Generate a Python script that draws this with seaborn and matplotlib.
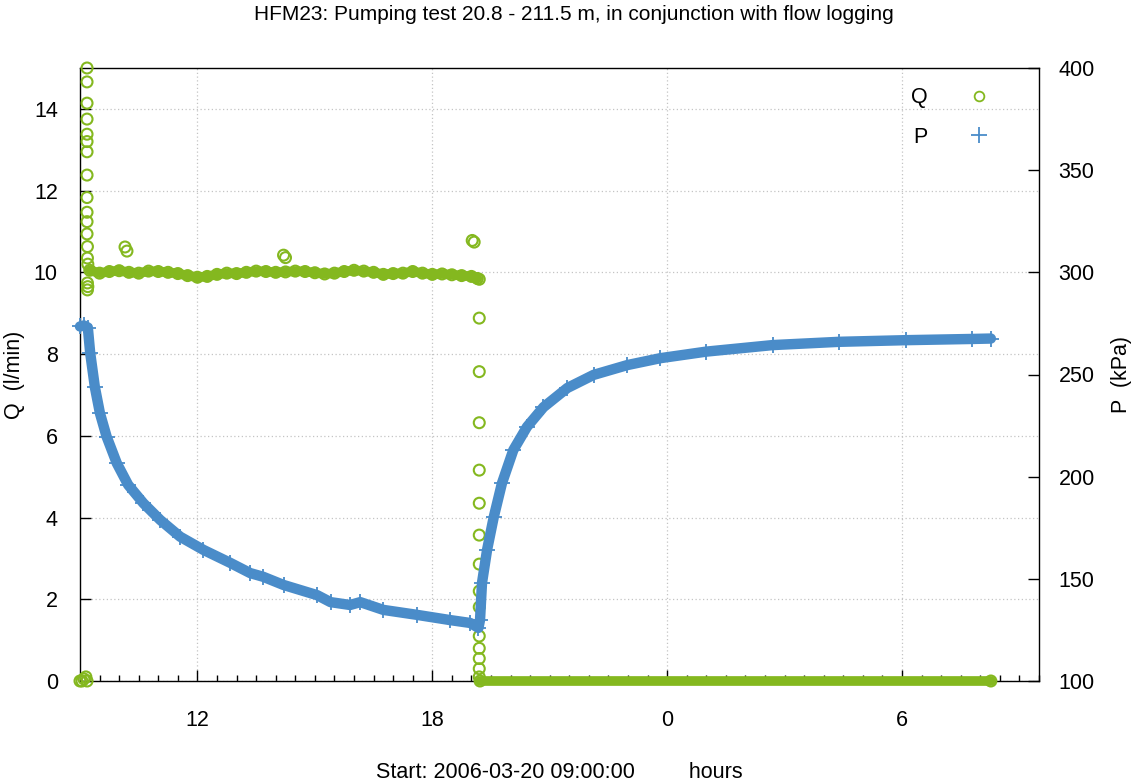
import numpy as np
import pandas as pd
import matplotlib.pyplot as plt
import seaborn as sns
from matplotlib.lines import Line2D
from matplotlib.ticker import FixedLocator, MultipleLocator

# hours since start (2006-03-20 09:00:00)
# Q (l/min) readings
q_pre_t = [0.00, 0.05, 0.10, 0.15, 0.18]
q_pre = [0.0, 0.0, 0.05, 0.10, 0.0]

q_spike_t = [0.18, 0.18, 0.18, 0.18, 0.18, 0.18, 0.18, 0.18, 0.18,
             0.18, 0.18, 0.18, 0.19, 0.19, 0.20, 0.19, 0.19, 0.20]
q_spike = [15.0, 14.66, 14.14, 13.75, 13.38, 13.2, 12.95, 12.38, 11.83,
           11.47, 11.24, 10.94, 10.63, 10.35, 10.2, 9.74, 9.57, 9.65]

q_pump_t = [0.25, 0.5, 0.75, 1.0, 1.25, 1.5, 1.75, 2.0, 2.25, 2.5, 2.75,
            3.0, 3.25, 3.5, 3.75, 4.0, 4.25, 4.5, 4.75, 5.0, 5.25, 5.5,
            5.75, 6.0, 6.25, 6.5, 6.75, 7.0, 7.25, 7.5, 7.75, 8.0, 8.25,
            8.5, 8.75, 9.0, 9.25, 9.5, 9.75, 10.0, 10.15]
q_pump = [10.05, 9.98, 10.02, 10.04, 10.0, 9.98, 10.03, 10.02, 10.0, 9.97,
          9.92, 9.88, 9.9, 9.95, 9.98, 9.97, 10.0, 10.03, 10.02, 10.0, 10.01,
          10.03, 10.02, 9.99, 9.96, 9.98, 10.02, 10.05, 10.03, 10.0, 9.95,
          9.97, 9.98, 10.02, 9.98, 9.95, 9.96, 9.94, 9.92, 9.9, 9.85]

q_out_t = [1.15, 1.20, 5.20, 5.25, 10.02, 10.07]
q_out = [10.62, 10.52, 10.42, 10.36, 10.78, 10.74]

q_stop_t = [10.2, 10.2, 10.2, 10.2, 10.2, 10.2, 10.2, 10.2, 10.2, 10.2,
            10.2, 10.2, 10.2, 10.2, 10.2]
q_stop = [9.83, 8.88, 7.57, 6.32, 5.16, 4.35, 3.57, 2.86, 2.20, 1.81,
          1.1, 0.8, 0.55, 0.3, 0.1]

q_rec_t = [10.22, 23.27]
q_rec = [0.0, 0.0]

# P (kPa) readings
p_t = [0.0, 0.1, 0.2, 0.26, 0.38, 0.51, 0.68, 0.94, 1.23, 1.62, 2.05,
       2.56, 3.15, 3.84, 4.35, 4.68, 5.2, 6.06, 6.4, 6.9, 7.16, 7.75,
       8.6, 9.46, 9.97, 10.18, 10.22, 10.27, 10.40, 10.57, 10.78, 11.07,
       11.42, 11.84, 12.45, 13.12, 13.98, 14.83, 16.0, 17.7, 19.4, 21.1,
       22.8, 23.27]
p_kpa = [273.5, 274.0, 273.0, 260.6, 243.8, 231.0, 219.6, 206.6, 196.0,
         187.0, 178.8, 170.6, 164.2, 157.8, 152.8, 151.0, 147.0, 142.0,
         138.6, 137.2, 138.6, 134.8, 132.4, 129.8, 128.4, 126.0, 130.0,
         148.0, 164.2, 180.2, 196.8, 213.0, 224.4, 234.0, 243.4, 249.8,
         254.6, 258.0, 261.2, 264.4, 266.0, 266.8, 267.4, 267.6]

x_ticks = [3, 9, 15, 21]
x_ticklabels = ["12", "18", "0", "6"]

green = "#84b81f"
blue = "#4a8cc9"

sns.set_style("white")
plt.rcParams['font.family'] = ['Liberation Sans', 'DejaVu Sans']
plt.rcParams.update({'text.color': 'black', 'axes.labelcolor': 'black',
                     'xtick.color': 'black', 'ytick.color': 'black'})

fig = plt.figure(figsize=(11.32, 7.84), dpi=100)
ax = fig.add_axes([80/1132, 1-681/784, (1039-80)/1132, (681-68)/784])
ax2 = ax.twinx()

# Q on left axis
sns.lineplot(x=q_pump_t, y=q_pump, ax=ax, color=green, lw=7, sort=False,
             estimator=None, clip_on=False, zorder=3)
sns.lineplot(x=q_rec_t, y=q_rec, ax=ax, color=green, lw=7, sort=False,
             estimator=None, clip_on=False, zorder=3, solid_capstyle='round')
q_all_t = q_pre_t + q_spike_t + q_pump_t + q_out_t + q_stop_t + q_rec_t
q_all = q_pre + q_spike + q_pump + q_out + q_stop + q_rec
sns.scatterplot(x=q_all_t, y=q_all, ax=ax, marker='o', s=62,
                facecolors='none', edgecolor=green, linewidth=1.5,
                clip_on=False, zorder=4)

# P on right axis
sns.lineplot(x=p_t, y=p_kpa, ax=ax2, color=blue, lw=7.5, sort=False,
             estimator=None, clip_on=False, zorder=2)
sns.scatterplot(x=p_t, y=p_kpa, ax=ax2, marker='+', s=120, color=blue,
                linewidth=1.3, clip_on=False, zorder=3)

ax.set_xlim(0, 24.5)
ax.set_ylim(0, 15)
ax2.set_ylim(100, 400)

ax.xaxis.set_major_locator(FixedLocator(x_ticks))
ax.set_xticklabels(x_ticklabels)
ax.xaxis.set_minor_locator(MultipleLocator(0.5))
ax.yaxis.set_major_locator(MultipleLocator(2))
ax2.yaxis.set_major_locator(MultipleLocator(50))

ax.grid(True, which='major', color='#c4c4c4', linestyle=(0, (1, 2)), lw=0.9)
ax2.grid(False)

ax.tick_params(axis='x', which='major', direction='in', length=8, width=1,
               labelsize=15.5, pad=21, bottom=True, top=False)
ax.tick_params(axis='x', which='minor', direction='in', length=4, width=1,
               bottom=True, top=False)
ax.tick_params(axis='y', direction='in', length=8, width=1, labelsize=15.5,
               pad=16, left=True, right=False)
ax2.tick_params(axis='y', direction='in', length=8, width=1, labelsize=15.5,
                pad=14, left=False, right=True)

for s in ax.spines.values():
    s.set_color('black')
    s.set_linewidth(1.0)
for s in ax2.spines.values():
    s.set_visible(False)

ax.set_xlabel("Start: 2006-03-20 09:00:00         hours", fontsize=15.5, va='center')
ax.xaxis.set_label_coords(0.5, (681-772)/613)
ax.set_ylabel("Q  (l/min)", fontsize=15.5, ha='center', va='center')
ax.yaxis.set_label_coords((15-80)/959, 0.5)
ax2.set_ylabel("P  (kPa)", fontsize=15.5, ha='center', va='center')
ax2.yaxis.set_label_coords((1122-80)/959, 0.5)

fig.suptitle("HFM23: Pumping test 20.8 - 211.5 m, in conjunction with flow logging",
             x=574/1132, y=1-15/784, va='center', fontsize=15)

handles = [Line2D([], [], marker='o', ls='', mfc='none', mec=green, ms=7, mew=1.3),
           Line2D([], [], marker='+', ls='', color=blue, ms=11, mew=1.3)]
ax2.legend(handles, ["Q", "P"], loc='upper right', bbox_to_anchor=(0.9687, 0.9827),
           borderaxespad=0, markerfirst=False, frameon=False, fontsize=15.5,
           handlelength=2, handletextpad=1.4, labelspacing=0.85)

fig.savefig("out.png", dpi=100)
